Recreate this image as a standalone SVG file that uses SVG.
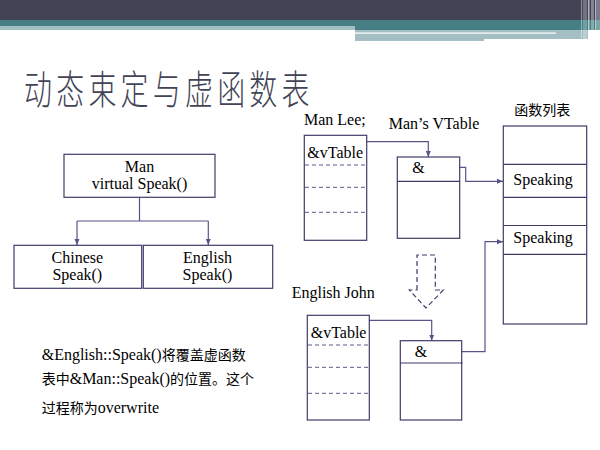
<svg xmlns="http://www.w3.org/2000/svg" width="600" height="450" viewBox="0 0 600 450">
<style>
.box{fill:#fff;stroke:#3c3c6a;stroke-width:1.2}
.dash{stroke:#5a5a8a;stroke-width:1;stroke-dasharray:4 3;fill:none}
.div{stroke:#3c3c6a;stroke-width:1.2;fill:none}
.t{font-family:"Liberation Serif","Noto Sans CJK SC",serif;font-size:16px;fill:#000}
.c{text-anchor:middle}
.con{fill:none;stroke:#55558a;stroke-width:1.2}
.cjk{font-family:"Noto Sans CJK SC",sans-serif;font-size:14px;fill:#000}
</style>
<defs>
<marker id="ah" viewBox="0 0 6 6" refX="6" refY="3" markerWidth="6" markerHeight="6" markerUnits="userSpaceOnUse" orient="auto">
<path d="M0,0.5 L6,3 L0,5.5 Z" fill="#55558a"/>
</marker>
</defs>
<rect width="600" height="450" fill="#fff"/>
<g id="header">
<rect x="0" y="0" width="600" height="20" fill="#424456"/>
<rect x="0" y="20" width="600" height="6" fill="#457f83"/>
<rect x="0" y="26" width="355" height="4" fill="#a3bfc3"/>
<rect x="355" y="26" width="245" height="4" fill="#457f83"/>
<rect x="355" y="30" width="129" height="11" fill="#a3bfc3"/>
<rect x="484" y="30" width="104" height="9" fill="#a3bfc3"/>
<rect x="355" y="32.5" width="201" height="1.2" fill="#fff"/>
<rect x="581" y="0" width="1" height="38" fill="#fff" opacity="0.4"/>
<rect x="583" y="0" width="4" height="41" fill="#fff" opacity="0.25"/>
<rect x="588" y="0" width="1.5" height="41" fill="#fff" opacity="0.6"/>
<rect x="591" y="0" width="3" height="41" fill="#fff" opacity="0.35"/>
<rect x="595" y="0" width="1.5" height="41" fill="#fff" opacity="0.6"/>
<rect x="597" y="0" width="3" height="41" fill="#fff" opacity="0.3"/>
</g>
<g id="title">
<text transform="translate(24,104) scale(0.7,1)" font-family="Noto Sans CJK SC,sans-serif" font-weight="300" font-size="40" letter-spacing="6" fill="#424456">动态束定与虚函数表</text>
</g>
<g id="connectors">
<path class="con" d="M139.5,197.3 V221 M77,221 H208.3" stroke="#8a8aae" stroke-width="2"/>
<path class="con" d="M77,221 V245" marker-end="url(#ah)"/>
<path class="con" d="M208.3,221 V245" marker-end="url(#ah)"/>
<path class="con" d="M366.7,141.7 H428.3 V157" marker-end="url(#ah)"/>
<path class="con" d="M428.3,167.3 H465.7 V181.3 H503" marker-end="url(#ah)"/>
<path class="con" d="M369.3,320.3 H431.7 V340.7" marker-end="url(#ah)"/>
<path class="con" d="M436.7,351.7 H485 V241.7 H503" marker-end="url(#ah)"/>
<path d="M417,290 V255 H435.3 V290 H443.3 L426,308 L409.3,290 Z" fill="none" stroke="#3c3c6a" stroke-width="1.2" stroke-dasharray="5 3"/>
</g>
<g id="man">
<rect class="box" x="64" y="154.3" width="151" height="43"/>
<text class="t c" x="139.5" y="171.7">Man</text>
<text class="t c" x="139.5" y="189.3">virtual Speak()</text>
</g>
<g id="chinese">
<rect class="box" x="14" y="245.3" width="127.7" height="43"/>
<text class="t c" x="77.3" y="262.7">Chinese</text>
<text class="t c" x="77.3" y="280">Speak()</text>
</g>
<g id="english">
<rect class="box" x="143.3" y="245.3" width="129.4" height="43"/>
<text class="t c" x="207.5" y="262.7">English</text>
<text class="t c" x="207.5" y="280">Speak()</text>
</g>
<g id="manlee">
<text class="t" x="304" y="125">Man Lee;</text>
<rect class="box" x="304.3" y="135.3" width="62.4" height="105"/>
<text class="t" x="307.3" y="158.3">&amp;vTable</text>
<path class="dash" d="M305,165 H366 M305,187.3 H366 M305,212.3 H366"/>
</g>
<g id="manvtable">
<text class="t" x="388.7" y="129">Man’s VTable</text>
<rect class="box" x="397.3" y="157" width="62.4" height="81.3"/>
<path class="div" d="M397.3,181.3 H459.7"/>
<text class="t" x="412.3" y="173.3">&amp;</text>
</g>
<g id="funclist">
<text class="cjk" x="514.3" y="115">函数列表</text>
<rect class="box" x="503.3" y="126" width="83.4" height="198"/>
<path class="div" d="M503.3,164.3 H586.7 M503.3,197.3 H586.7 M503.3,225.5 H586.7 M503.3,254.3 H586.7"/>
<text class="t" x="513.3" y="185">Speaking</text>
<text class="t" x="513.3" y="242.7">Speaking</text>
</g>
<g id="englishjohn">
<text class="t" x="291.7" y="298.3">English John</text>
<rect class="box" x="307.3" y="315.3" width="62" height="104.7"/>
<text class="t" x="310.7" y="337.7">&amp;vTable</text>
<path class="dash" d="M308,345 H369 M308,367.3 H369 M308,393.3 H369"/>
</g>
<g id="englishvtable">
<rect class="box" x="400.3" y="340.7" width="61.4" height="79.3"/>
<path class="div" d="M400.3,363 H462.7"/>
<text class="t" x="414.7" y="356.7">&amp;</text>
</g>
<g id="note">
<text class="t" x="41.7" y="360">&amp;English::Speak()<tspan class="cjk" font-size="15">将覆盖虚函数</tspan></text>
<text class="t" x="41.7" y="384.3"><tspan class="cjk" font-size="15">表中</tspan>&amp;Man::Speak()<tspan class="cjk" font-size="15">的位置。这个</tspan></text>
<text class="t" x="41.7" y="413.3"><tspan class="cjk" font-size="15">过程称为</tspan>overwrite</text>
</g>
</svg>
